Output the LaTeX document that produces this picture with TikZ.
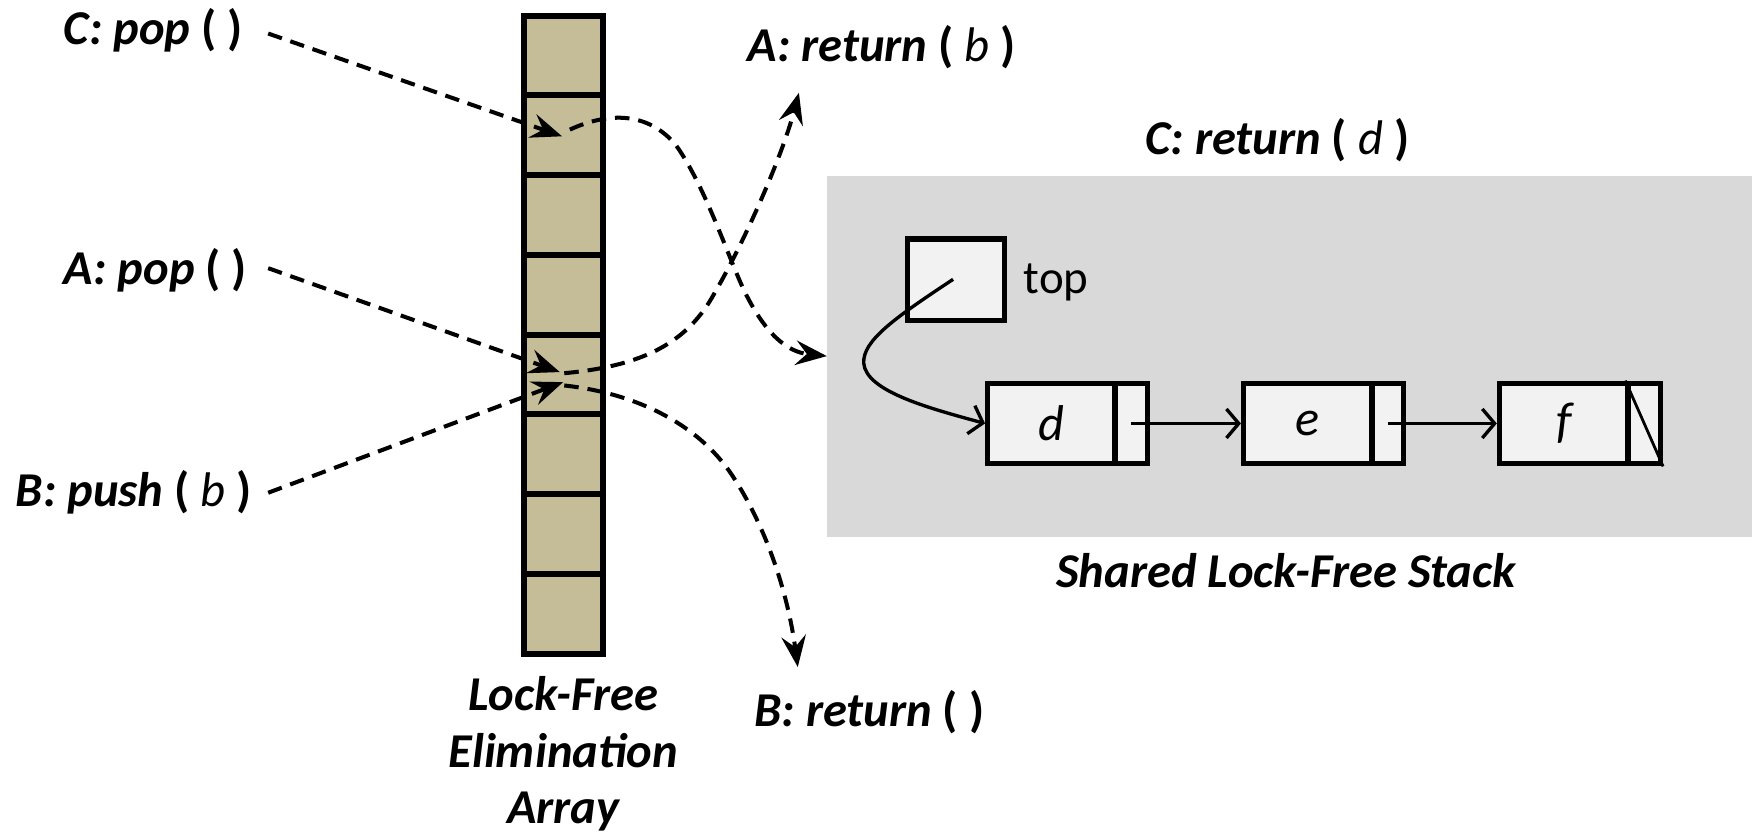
\documentclass[tikz,border=0pt]{standalone}
\usepackage{fontspec}
\setmainfont{Carlito}
\usetikzlibrary{arrows.meta}
\definecolor{tancell}{HTML}{C4BD97}
\definecolor{stackbg}{HTML}{D9D9D9}
\definecolor{boxfill}{HTML}{F2F2F2}
\newcommand{\bp}[1]{{\bfseries\upshape #1}}
\newcommand{\ri}[1]{{\mdseries\itshape #1}}
\begin{document}
\begin{tikzpicture}[x=1pt,y=-1pt,
  lbl/.style={inner sep=0pt, font=\fontsize{43.5}{50}\selectfont\bfseries\itshape},
  arrcell/.style={draw, line width=5.2pt, fill=tancell, minimum width=71pt, minimum height=71.4pt, inner sep=0pt},
  listbox/.style={draw, line width=4.8pt, fill=boxfill, minimum height=72pt, inner sep=0pt, font=\fontsize{45}{50}\selectfont\itshape},
  dashline/.style={line width=3.6pt, dash pattern=on 13pt off 8pt},
  dasharrow/.style={dashline, -{Stealth[length=28pt,width=22pt,inset=10pt]}},
  ptr/.style={line width=3pt, -{Straight Barb[length=11pt,width=26pt]}}
]
\useasboundingbox (0,0) rectangle (1568,747);

% shared stack background
\node[fill=stackbg, minimum width=828pt, minimum height=323pt, inner sep=0pt, anchor=north west] (stack) at (740,157) {};

% elimination array
\foreach \i in {1,...,8} {
  \node[arrcell] (cell\i) at (504.5, {14+(\i-0.5)*71.375}) {};
}

% top pointer
\node[listbox, minimum width=87pt, minimum height=73pt] (topbox) at (855.5,250.5) {};
\node[anchor=base west, inner sep=0pt, font=\fontsize{42}{48}\selectfont] (toplbl) at (916,263) {top};

% list nodes
\node[listbox, minimum width=114pt] (dval) at (941,379) {d};
\node[listbox, minimum width=29pt] (dptr) at (1012.5,379) {};
\node[listbox, minimum width=115pt] (eval) at (1170.5,379) {e};
\node[listbox, minimum width=28pt] (eptr) at (1242,379) {};
\node[listbox, minimum width=115pt] (fval) at (1399.5,379) {f};
\node[listbox, minimum width=29pt] (fptr) at (1471.5,379) {};
\draw[line width=2.5pt] (fptr.north west) -- (fptr.south east);

\draw[ptr] (dptr.center) -- (eval.west);
\draw[ptr] (eptr.center) -- (fval.west);
\coordinate (topsrc) at (853,250);
\draw[ptr] (topsrc) .. controls (800,285) and (772,305) .. (773,325)
  .. controls (775,350) and (830,365) .. (dval.west);

% labels
\node[lbl, anchor=base west] (cpop) at (57,40) {C: pop \bp{(} \bp{)}};
\node[lbl, anchor=base west] (apop) at (57,255) {A: pop \bp{(} \bp{)}};
\node[lbl, anchor=base west] (bpush) at (14,453) {B: push \bp{(} \ri{b} \bp{)}};
\node[lbl, anchor=base west] (aret) at (669,55) {A: return \bp{(} \ri{b} \bp{)}};
\node[lbl, anchor=base west] (cret) at (1025,138) {C: return \bp{(} \ri{d} \bp{)}};
\node[lbl, anchor=base west] (bret) at (675,650) {B: return \bp{(} \bp{)}};
\node[lbl, anchor=base] (al1) at (504,636) {Lock-Free};
\node[lbl, anchor=base] (al2) at (504,687) {Elimination};
\node[lbl, anchor=base] (al3) at (504,737) {Array};
\node[lbl, anchor=base] (stlbl) at (1151,526) {Shared Lock-Free Stack};

% arrow end points
\coordinate (cstart) at (240,30);
\coordinate (astart) at (240,240);
\coordinate (bstart) at (240,441);
\coordinate (cin) at (503,122);
\coordinate (cout) at (510,116);
\coordinate (ain) at (501,333);
\coordinate (aout) at (505,334);
\coordinate (bin) at (504,342);
\coordinate (bout) at (505,345);
\coordinate (aend) at (715,83);
\coordinate (bend) at (714,597);

% dashed paths
\draw[dasharrow] (cstart) -- (cin);
\draw[dasharrow] (astart) -- (ain);
\draw[dasharrow] (bstart) -- (bin);

\draw[dasharrow] (cout) .. controls (545,100) and (580,100) .. (605,130)
  .. controls (630,165) and (650,225) .. (665,258)
  .. controls (685,300) and (705,315) .. (stack.west);
\draw[dasharrow] (aout) .. controls (570,328) and (610,310) .. (635,270)
  .. controls (665,220) and (700,140) .. (aend);
\draw[dasharrow] (bout) .. controls (570,352) and (625,380) .. (655,425)
  .. controls (685,470) and (705,530) .. (bend);
\end{tikzpicture}
\end{document}
